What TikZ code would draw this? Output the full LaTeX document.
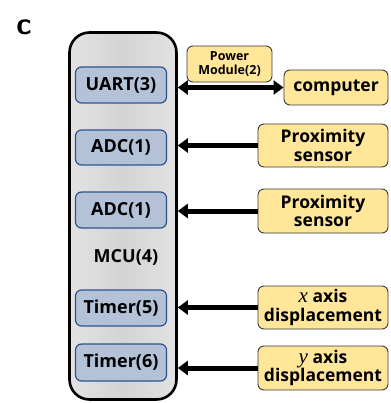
\documentclass[tikz,border=0pt]{standalone}
\usepackage{fontspec}
\setmainfont{Open Sans}
\newfontfamily\mathlike{Liberation Serif}
\usetikzlibrary{arrows.meta}
\definecolor{mcugray}{HTML}{D4D4D4}
\definecolor{mcuedge}{HTML}{E2E2E2}
\definecolor{modfill}{HTML}{B4C2D8}
\definecolor{modline}{HTML}{2F5290}
\definecolor{perfill}{HTML}{FFE699}
\definecolor{perline}{HTML}{3A3A3A}
\newcommand{\axisvar}[1]{{\mathlike\itshape\mdseries\fontsize{21}{18}\selectfont #1}}
\begin{document}
\begin{tikzpicture}[x=1pt,y=-1pt,
  mcubox/.style={draw=black,line width=2.6pt,rounded corners=20pt,
    left color=mcuedge,right color=mcuedge,middle color=mcugray,
    minimum width=107pt,minimum height=367pt,inner sep=0pt},
  module/.style={draw=modline,line width=1.2pt,fill=modfill,rounded corners=6pt,
    minimum width=91pt,inner sep=0pt,font=\bfseries\fontsize{18}{19}\selectfont},
  periph/.style={draw=perline,line width=0.9pt,fill=perfill,rounded corners=6pt,
    inner sep=0pt,align=center,font=\bfseries\fontsize{17.5}{18.5}\selectfont},
  link/.style={line width=5pt,-{Triangle[width=14pt,length=10pt]}},
  duplex/.style={line width=5pt,{Triangle[width=14pt,length=10pt]}-{Triangle[width=14pt,length=10pt]}}]
\useasboundingbox (0,0) rectangle (390,403);

\node[font=\sffamily\bfseries\fontsize{31}{31}\selectfont] (tag) at (24,27) {c};

% microcontroller and its peripherals
\node[mcubox] (mcu) at (123,216) {};
\node[module,minimum height=36pt] (uart) at (121,85) {UART(3)};
\node[module,minimum height=35pt] (adca) at (121,147.5) {ADC(1)};
\node[module,minimum height=36pt] (adcb) at (121,210) {ADC(1)};
\node[font=\bfseries\fontsize{18}{19}\selectfont] (mcuname) at (126,257) {MCU(4)};
\node[module,minimum height=36pt] (tima) at (121,308) {Timer(5)};
\node[module,minimum height=37pt] (timb) at (121,362.5) {Timer(6)};

% external devices
\node[periph,minimum width=85pt,minimum height=36pt,font=\bfseries\fontsize{12.5}{13.5}\selectfont] (power) at (229.5,64) {Power\\Module(2)};
\node[periph,minimum width=104pt,minimum height=35pt] (comp) at (336,87.5) {computer};
\node[periph,minimum width=130pt,minimum height=43pt] (proxa) at (323,145.5) {Proximity\\sensor};
\node[periph,minimum width=130pt,minimum height=44pt] (proxb) at (323,211) {Proximity\\sensor};
\node[periph,minimum width=130pt,minimum height=43pt] (xdisp) at (323,307.5) {\axisvar{x} axis\\displacement};
\node[periph,minimum width=130pt,minimum height=44pt] (ydisp) at (323,368) {\axisvar{y} axis\\displacement};

% signal paths
\draw[duplex] (mcu.east |- comp.west) -- (comp.west);
\draw[link] (proxa.west) -- (proxa.west -| mcu.east);
\draw[link] (proxb.west) -- (proxb.west -| mcu.east);
\draw[link] (xdisp.west) -- (xdisp.west -| mcu.east);
\draw[link] (ydisp.west) -- (ydisp.west -| mcu.east);
\end{tikzpicture}
\end{document}
